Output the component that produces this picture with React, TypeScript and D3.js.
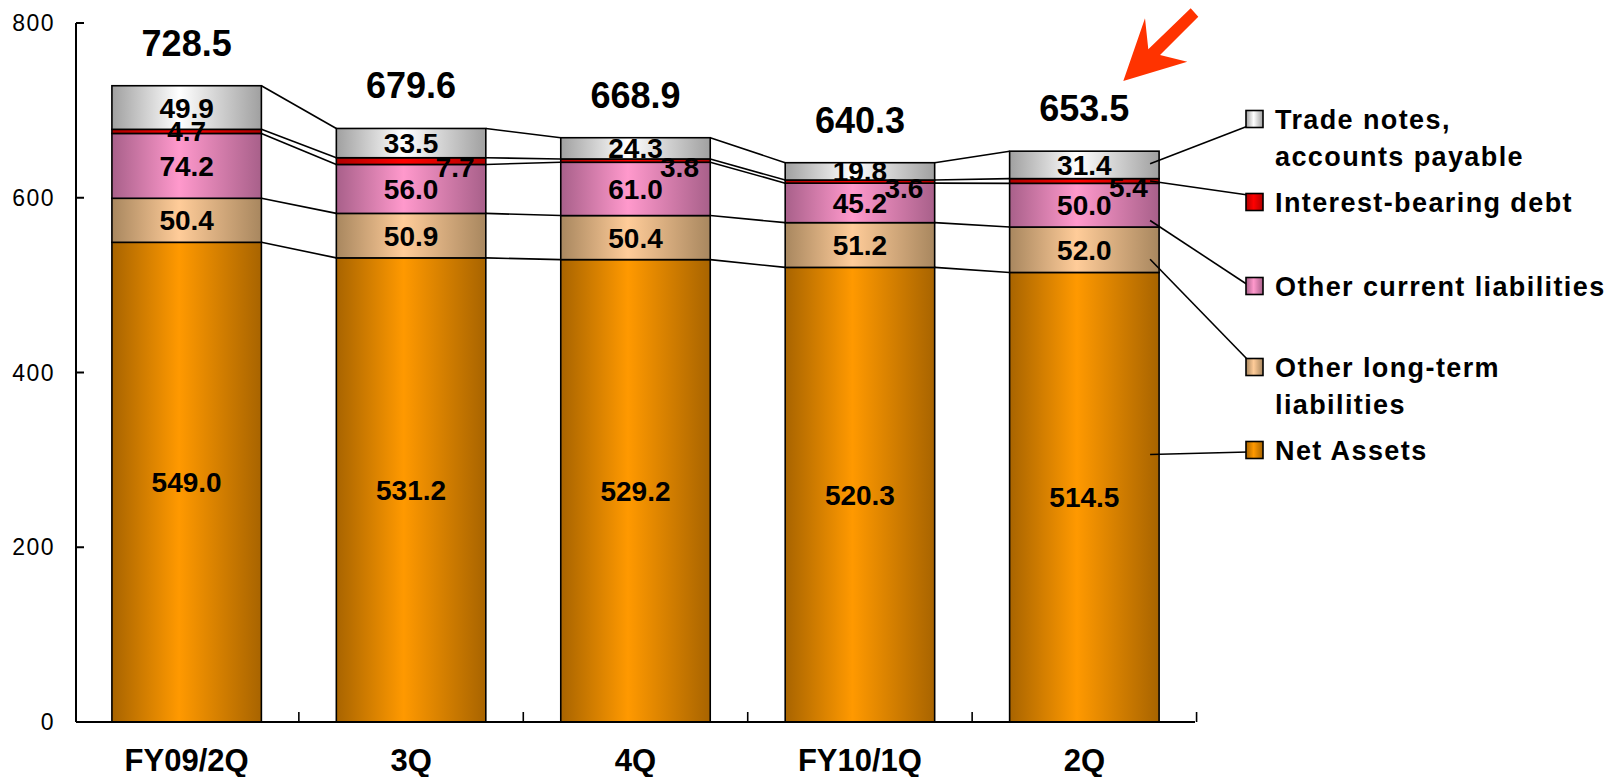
import React from "react";
import * as d3 from "d3";

// Quarterly balance of liabilities and net assets (billion yen)
const categories = ["FY09/2Q", "3Q", "4Q", "FY10/1Q", "2Q"];
const netAssets = [549.0, 531.2, 529.2, 520.3, 514.5];
const otherLongTerm = [50.4, 50.9, 50.4, 51.2, 52.0];
const otherCurrent = [74.2, 56.0, 61.0, 45.2, 50.0];
const interestDebt = [4.7, 7.7, 3.8, 3.6, 5.4];
const tradePayable = [49.9, 33.5, 24.3, 19.8, 31.4];
const totals = [728.5, 679.6, 668.9, 640.3, 653.5];
const yTicks = [0, 200, 400, 600, 800];

// stacking order, bottom to top
const seriesNames = [
  "Net Assets",
  "Other long-term liabilities",
  "Other current liabilities",
  "Interest-bearing debt",
  "Trade notes, accounts payable",
];
const seriesValues = [netAssets, otherLongTerm, otherCurrent, interestDebt, tradePayable];
const seriesDark = ["#A86400", "#A8875F", "#A8608A", "#B00000", "#A0A0A0"];
const seriesLight = ["#FF9900", "#FFCC99", "#FF99CC", "#FF0000", "#FFFFFF"];

const W = 1613;
const H = 777;
const FONT = "'Liberation Sans', Arial, Helvetica, sans-serif";

const x = d3
  .scaleBand<string>()
  .domain(categories)
  .range([76, 1195])
  .paddingInner(0.334)
  .paddingOuter(0.16);
const y = d3.scaleLinear().domain([0, 800]).range([722, 23]);

// legend entries top to bottom, indexing into the series arrays
const legend = [
  { s: 4, lines: ["Trade notes,", "accounts payable"], cy: 119, frac: 0.46, dy: 7 },
  { s: 3, lines: ["Interest-bearing debt"], cy: 202, frac: 0.5, dy: -7 },
  { s: 2, lines: ["Other current liabilities"], cy: 286, frac: 0.85, dy: -1 },
  { s: 1, lines: ["Other long-term", "liabilities"], cy: 367, frac: 0.71, dy: -7 },
  { s: 0, lines: ["Net Assets"], cy: 450, frac: 0.405, dy: 2 },
];

export default function App() {
  const bw = x.bandwidth();
  const stacked = categories.map((_, i) => {
    let acc = 0;
    return seriesValues.map((vals) => {
      const y0 = acc;
      acc += vals[i];
      return [y0, acc];
    });
  });

  const sqX = 1246;
  const sq = 17;
  const lastIdx = categories.length - 1;
  const lastRight = (x(categories[lastIdx]) as number) + bw;

  return (
    <svg
      width={W}
      height={H}
      style={{ position: "absolute", left: 0, top: 0, background: "#fff" }}
      fontFamily={FONT}
    >
      <defs>
        {seriesNames.map((_, s) => (
          <linearGradient key={s} id={`grad${s}`} x1="0" x2="1" y1="0" y2="0">
            <stop offset="0" stopColor={seriesDark[s]} />
            <stop offset="0.45" stopColor={seriesLight[s]} />
            <stop offset="1" stopColor={seriesDark[s]} />
          </linearGradient>
        ))}
      </defs>

      {/* connectors between neighbouring stacks */}
      {categories.slice(0, -1).map((c, i) =>
        seriesNames.map((_, s) => (
          <line
            key={`c${i}-${s}`}
            x1={(x(c) as number) + bw}
            y1={y(stacked[i][s][1])}
            x2={x(categories[i + 1]) as number}
            y2={y(stacked[i + 1][s][1])}
            stroke="#000"
            strokeWidth={1.6}
          />
        ))
      )}

      {/* stacked bars */}
      {categories.map((c, i) =>
        seriesNames.map((_, s) => {
          const [a, b] = stacked[i][s];
          return (
            <rect
              key={`r${i}-${s}`}
              x={x(c)}
              y={y(b)}
              width={bw}
              height={y(a) - y(b)}
              fill={`url(#grad${s})`}
              stroke="#000"
              strokeWidth={1.6}
            />
          );
        })
      )}

      {/* axes */}
      <line x1={76} y1={y(800)} x2={76} y2={y(0)} stroke="#000" strokeWidth={2} />
      <line x1={76} y1={y(0)} x2={1195} y2={y(0)} stroke="#000" strokeWidth={2} />
      {yTicks.map((t) => (
        <g key={`yt${t}`}>
          <line x1={76} x2={84} y1={y(t)} y2={y(t)} stroke="#000" strokeWidth={2} />
          <text
            x={55}
            y={y(t) + 8}
            textAnchor="end"
            fontSize={23}
            letterSpacing={1.5}
            fill="#000"
          >
            {t}
          </text>
        </g>
      ))}
      {categories.map((c) => {
        const xr = (x(c) as number) + bw + (x.step() * x.paddingInner()) / 2;
        return <line key={`xt${c}`} x1={xr} x2={xr} y1={y(0)} y2={y(0) - 10} stroke="#000" strokeWidth={1.6} />;
      })}
      {categories.map((c) => (
        <text
          key={`xl${c}`}
          x={(x(c) as number) + bw / 2}
          y={771}
          textAnchor="middle"
          fontSize={31}
          fontWeight="bold"
          fill="#000"
        >
          {c}
        </text>
      ))}

      {/* segment value labels */}
      {categories.map((c, i) =>
        seriesNames.map((_, s) => {
          const [a, b] = stacked[i][s];
          const cx = (x(c) as number) + bw / 2;
          const cy = (y(a) + y(b)) / 2;
          const nudge = s === 3 && i > 0;
          return (
            <text
              key={`v${i}-${s}`}
              x={cx + (nudge ? 44 : 0)}
              y={cy + 10 + (nudge ? 6 : 0)}
              textAnchor="middle"
              fontSize={28}
              fontWeight="bold"
              fill="#000"
            >
              {seriesValues[s][i].toFixed(1)}
            </text>
          );
        })
      )}

      {/* stack totals */}
      {categories.map((c, i) => (
        <text
          key={`t${i}`}
          x={(x(c) as number) + bw / 2}
          y={y(stacked[i][4][1]) - 30}
          textAnchor="middle"
          fontSize={36}
          fontWeight="bold"
          fill="#000"
        >
          {totals[i].toFixed(1)}
        </text>
      ))}

      {/* legend with leader lines into the last stack */}
      {legend.map((L) => {
        const [a, b] = stacked[lastIdx][L.s];
        const sy = y(b) + (y(a) - y(b)) * L.frac;
        return (
          <g key={`lg${L.s}`}>
            <line
              x1={lastRight - 9}
              y1={sy}
              x2={sqX + 2}
              y2={L.cy + L.dy}
              stroke="#000"
              strokeWidth={1.6}
            />
            <rect
              x={sqX}
              y={L.cy - sq / 2}
              width={sq}
              height={sq}
              fill={`url(#grad${L.s})`}
              stroke="#000"
              strokeWidth={1.6}
            />
            {L.lines.map((ln, k) => (
              <text
                key={k}
                x={1275}
                y={L.cy + 10 + k * 37}
                fontSize={27}
                fontWeight="bold"
                letterSpacing={1.4}
                fill="#000"
              >
                {ln}
              </text>
            ))}
          </g>
        );
      })}

      {/* highlight arrow */}
      <polygon
        points="1123.3,81 1145,18.3 1148.3,49.3 1190.7,8.3 1198.3,16.7 1160,55 1187.3,61.7"
        fill="#FF3300"
      />
    </svg>
  );
}
